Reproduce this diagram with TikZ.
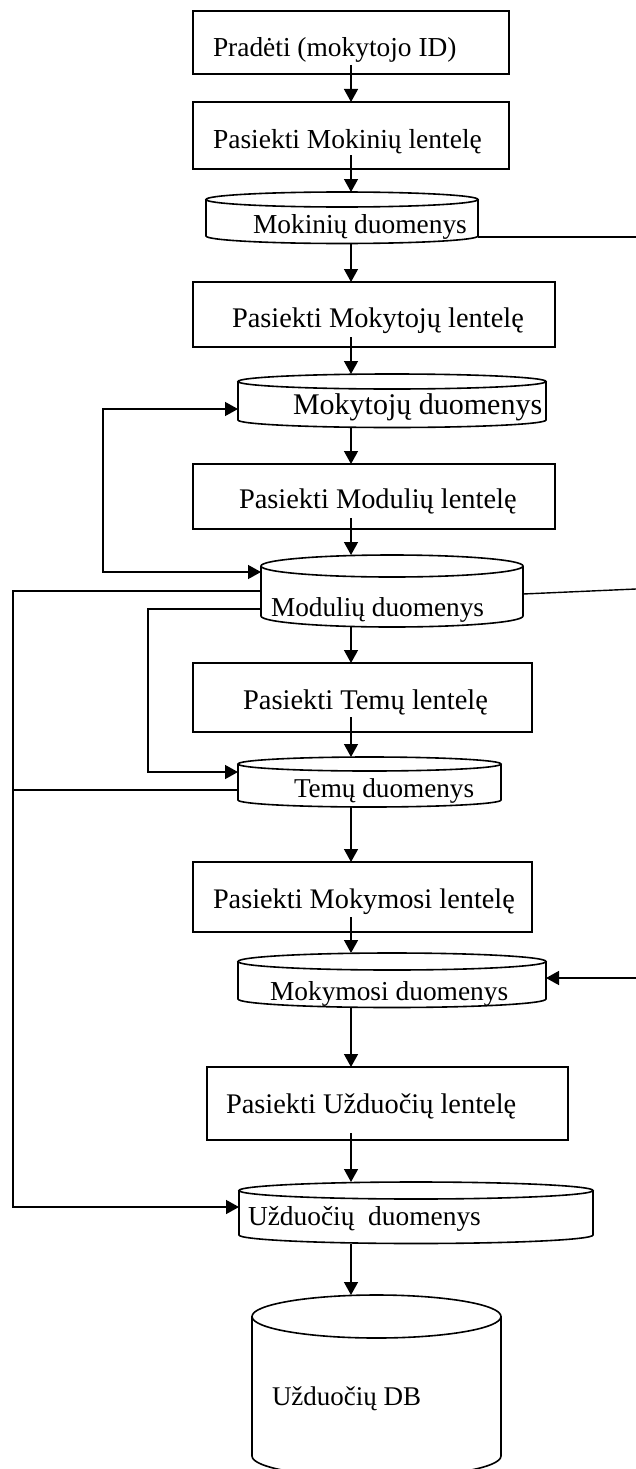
\documentclass[tikz,border=0pt]{standalone}
\usepackage{fontspec}
\setmainfont{Liberation Serif}
\usetikzlibrary{arrows.meta,calc}
\newcommand\fsz[1]{\fontsize{#1}{#1}\selectfont}
\newcommand\drawcyl[3]{%
  \draw[shp] ([yshift=-#2pt]#1.north west) -- ([yshift=#2pt]#1.south west)
     arc[start angle=180,end angle=360,x radius=#3pt,y radius=#2pt] -- ([yshift=-#2pt]#1.north east);
  \draw[shp] ([yshift=-#2pt]#1.north) ellipse[x radius=#3pt,y radius=#2pt];}
\begin{document}
\begin{tikzpicture}[x=1pt, y=-1pt,
  shp/.style={line width=1.6pt},
  con/.style={line width=1.4pt},
  arr/.style={con, -{Triangle[length=13pt,width=14pt]}},
  procbox/.style={draw, shp, inner sep=0, outer sep=0},
  cylarea/.style={inner sep=0, outer sep=0},
  lbl/.style={inner sep=0, outer sep=0, anchor=base west}]
\useasboundingbox (0,0) rectangle (636,1469);
\clip (0,0) rectangle (636,1469);
\coordinate (ax) at (351,0);
% process boxes
\node[procbox, minimum width=316pt, minimum height=63pt] (b1) at (351,42.5) {};
\node[procbox, minimum width=316pt, minimum height=67pt] (b2) at (351,135.5) {};
\node[procbox, minimum width=362pt, minimum height=65pt] (b3) at (374,314.5) {};
\node[procbox, minimum width=362pt, minimum height=65pt] (b4) at (374,496.5) {};
\node[procbox, minimum width=339pt, minimum height=69pt] (b5) at (362.5,697.5) {};
\node[procbox, minimum width=339pt, minimum height=70pt] (b6) at (362.5,897) {};
\node[procbox, minimum width=361pt, minimum height=73pt] (b7) at (387.5,1103.5) {};
% cylinders (areas)
\node[cylarea, minimum width=272pt, minimum height=51.5pt] (c1) at (342,217.75) {};
\node[cylarea, minimum width=308pt, minimum height=53.5pt] (c2) at (392,400.75) {};
\node[cylarea, minimum width=262pt, minimum height=72pt] (c3) at (392,591) {};
\node[cylarea, minimum width=263pt, minimum height=50pt] (c4) at (369.5,782) {};
\node[cylarea, minimum width=308pt, minimum height=54.5pt] (c5) at (392,980.25) {};
\node[cylarea, minimum width=354pt, minimum height=61.5pt] (c6) at (416,1212.75) {};
\node[cylarea, minimum width=249pt, minimum height=182.5pt] (c7) at (376.5,1386.25) {};
\drawcyl{c1}{7.5}{136}
\drawcyl{c2}{7.5}{154}
\drawcyl{c3}{11}{131}
\drawcyl{c4}{7}{131.5}
\drawcyl{c5}{8.5}{154}
\drawcyl{c6}{8.5}{177}
\drawcyl{c7}{21.5}{124.5}
% labels
\node[lbl, font=\fsz{27.4}] (t1) at (213,57) {Pradėti (mokytojo ID)};
\node[lbl, font=\fsz{27.5}] (t2) at (213,148) {Pasiekti Mokinių lentelę};
\node[lbl, font=\fsz{27.4}] (t3) at (253,233) {Mokinių duomenys};
\node[lbl, font=\fsz{28.4}] (t4) at (232,327) {Pasiekti Mokytojų lentelę};
\node[lbl, font=\fsz{30}] (t5) at (293,414) {Mokytojų duomenys};
\node[lbl, font=\fsz{28.4}] (t6) at (239,508) {Pasiekti Modulių lentelę};
\node[lbl, font=\fsz{27.3}] (t7) at (271,616) {Modulių duomenys};
\node[lbl, font=\fsz{28.5}] (t8) at (243,709) {Pasiekti Temų lentelę};
\node[lbl, font=\fsz{27.2}] (t9) at (294,797) {Temų duomenys};
\node[lbl, font=\fsz{28.3}] (t10) at (213,908) {Pasiekti Mokymosi lentelę};
\node[lbl, font=\fsz{27.4}] (t11) at (270,1000) {Mokymosi duomenys};
\node[lbl, font=\fsz{28.4}] (t12) at (226,1113) {Pasiekti Užduočių lentelę};
\node[lbl, font=\fsz{27.4}] (t13) at (248,1225) {Užduočių\ \ duomenys};
\node[lbl, font=\fsz{27.0}] (t14) at (272,1405) {Užduočių DB};
% arrow start points inside boxes
\path (b1.south -| ax) ++(0,-9) coordinate (s1);
\path (b2.south -| ax) ++(0,-14) coordinate (s2);
\path (b3.south -| ax) ++(0,-10) coordinate (s3);
\path (b4.south -| ax) ++(0,-11) coordinate (s4);
\path (b5.south -| ax) ++(0,-15) coordinate (s5);
\path (b6.south -| ax) ++(0,-15) coordinate (s6);
\path (b7.south -| ax) ++(0,-7) coordinate (s7);
% main vertical flow
\draw[arr] (s1) -- (b2.north -| ax);
\draw[arr] (s2) -- (c1.north -| ax);
\draw[arr] (c1.south -| ax) -- (b3.north -| ax);
\draw[arr] (s3) -- (c2.north -| ax);
\draw[arr] (c2.south -| ax) -- (b4.north -| ax);
\draw[arr] (s4) -- (c3.north -| ax);
\draw[arr] (c3.south -| ax) -- (b5.north -| ax);
\draw[arr] (s5) -- (c4.north -| ax);
\draw[arr] (c4.south -| ax) -- (b6.north -| ax);
\draw[arr] (s6) -- (c5.north -| ax);
\draw[arr] (c5.south -| ax) -- (b7.north -| ax);
\draw[arr] (s7) -- (c6.north -| ax);
\draw[arr] (c6.south -| ax) -- (c7.north -| ax);
% right side lines
\coordinate (r1) at (636,237);
\coordinate (r2) at (636,589);
\coordinate (r3) at (636,978);
\draw[con] (c1.east |- r1) -- (r1);
\draw[con] ([yshift=-3pt]c3.east) -- (r2);
\draw[arr] (r3) -- (r3 -| c5.east);
% left loops
\coordinate (l1) at (103,409);
\coordinate (l2) at (103,572);
\draw[con, {Triangle[length=13pt,width=14pt]}-{Triangle[length=13pt,width=14pt]}]
  (l1 -| c2.west) -- (l1) -- (l2) -- (l2 -| c3.west);
\coordinate (n1) at (148,609);
\coordinate (n2) at (148,772);
\draw[arr] (n1 -| c3.west) -- (n1) -- (n2) -- (n2 -| c4.west);
\coordinate (m1) at (13,591);
\coordinate (m2) at (13,790);
\coordinate (m3) at (13,1207);
\draw[arr] (m1 -| c3.west) -- (m1) -- (m3) -- (m3 -| c6.west);
\draw[con] (m2 -| c4.west) -- (m2);
\end{tikzpicture}
\end{document}
